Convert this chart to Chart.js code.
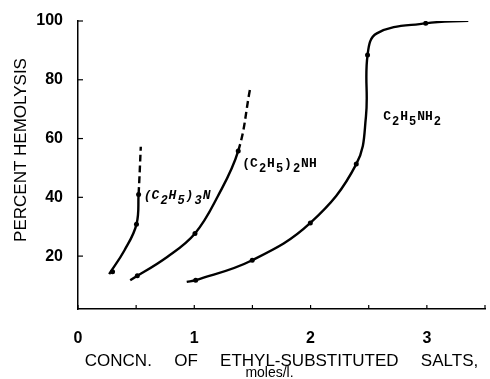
<!DOCTYPE html>
<html>
<head>
<meta charset="utf-8">
<script src="https://cdn.jsdelivr.net/npm/chart.js@4.4.1/dist/chart.umd.min.js"></script>
<style>
html,body{margin:0;padding:0;background:#fff;}
#wrap{width:490px;height:379px;}
</style>
</head>
<body>
<div id="wrap"><canvas id="c" width="490" height="379"></canvas></div>
<script>
// ---- data ----
// (C2H5)3N
const triCurveX = [0.268, 0.40, 0.503, 0.521, 0.54];
const triCurveY = [13.9, 22.0, 30.8, 41.0, 57.2];
const triDotX = [0.297, 0.503, 0.521];
const triDotY = [14.7, 30.8, 41.0];
// (C2H5)2NH
const diCurveX = [0.449, 0.77, 1.006, 1.20, 1.378, 1.478];
const diCurveY = [11.8, 19.8, 27.7, 40.2, 55.8, 76.5];
const diDotX = [0.51, 1.006, 1.378];
const diDotY = [13.3, 27.7, 55.8];
// C2H5NH2
const monoCurveX = [0.935, 1.012, 1.498, 1.998, 2.393, 2.476, 2.49, 2.57, 2.99, 3.356];
const monoCurveY = [11.25, 11.8, 18.6, 31.3, 51.3, 67.4, 88.4, 95.8, 99.2, 100.1];
const monoDotX = [1.012, 1.498, 1.998, 2.393, 2.49, 2.99];
const monoDotY = [11.8, 18.6, 31.3, 51.3, 88.4, 99.2];

const xTickLabels = ['0', '1', '2', '3'];
const yTickValues = [20, 40, 60, 80, 100];
const yTitle = 'PERCENT HEMOLYSIS';
const xTitleWords = ['CONCN.', 'OF', 'ETHYL-SUBSTITUTED', 'SALTS,'];
const xUnit = 'moles/l.';

function pts(xs, ys){ return xs.map((x,i)=>({x:x, y:ys[i]})); }

// formula labels, anchored in data coordinates
const formulaLabels = [
  {x:0.566, y:40.1, parts:[['(C',0],['2',1],['H',0],['5',1],[')',0],['3',1],['N',0]], italic:true},
  {x:1.413, y:51.0, parts:[['(C',0],['2',1],['H',0],['5',1],[')',0],['2',1],['NH',0]]},
  {x:2.624, y:67.0, parts:[['C',0],['2',1],['H',0],['5',1],['NH',0],['2',1]]}
];

const lineStyle = (dashFrom) => ({
  borderColor:'#000', borderWidth:2.4, pointRadius:0, fill:false,
  showLine:true, tension:0.4,
  segment:{ borderDash: ctx => ctx.p0DataIndex >= dashFrom ? [7,4] : undefined }
});
const dotStyle = {borderColor:'#000', backgroundColor:'#000', pointRadius:2.5, pointBorderWidth:0, showLine:false};

const extras = {
  id:'extras',
  afterDraw(chart){
    const ctx = chart.ctx, xs = chart.scales.x, ys = chart.scales.y, a = chart.chartArea;
    ctx.save();
    ctx.strokeStyle = '#000'; ctx.lineWidth = 1.2;
    xs.ticks.forEach(t => { const px = xs.getPixelForValue(t.value);
      ctx.beginPath(); ctx.moveTo(px, a.bottom); ctx.lineTo(px, a.bottom-4); ctx.stroke(); });
    ys.ticks.forEach(t => { const py = ys.getPixelForValue(t.value);
      ctx.beginPath(); ctx.moveTo(a.left, py); ctx.lineTo(a.left+5, py); ctx.stroke(); });
    ctx.fillStyle = '#000'; ctx.textBaseline = 'middle'; ctx.textAlign = 'left';
    formulaLabels.forEach(l => {
      let px = xs.getPixelForValue(l.x); const py = ys.getPixelForValue(l.y);
      l.parts.forEach(([s, sub]) => {
        ctx.font = (l.italic ? 'italic ' : '') + 'bold ' + (sub ? '12px' : '13px') + ' "Liberation Mono", monospace';
        ctx.fillText(s, px, py + (sub ? 4 : -1));
        px += ctx.measureText(s).width + 1;
      });
    });
    // y-axis title
    ctx.save();
    ctx.translate(21, 150); ctx.rotate(-Math.PI/2);
    ctx.textAlign = 'center';
    ctx.font = '17px "Liberation Sans", Arial, sans-serif';
    ctx.fillText(yTitle, 0, 0);
    ctx.restore();
    // second line of the x-axis title
    ctx.font = '14px "Liberation Sans", Arial, sans-serif';
    ctx.textAlign = 'center';
    ctx.fillText(xUnit, (a.left + a.right)/2 - 12, 373);
    ctx.restore();
  }
};

new Chart(document.getElementById('c'), {
  type:'scatter',
  data:{ datasets:[
    Object.assign({data:pts(triCurveX, triCurveY)}, lineStyle(3)),
    Object.assign({data:pts(diCurveX, diCurveY)}, lineStyle(4)),
    Object.assign({data:pts(monoCurveX, monoCurveY)}, lineStyle(99)),
    Object.assign({data:pts(triDotX, triDotY)}, dotStyle),
    Object.assign({data:pts(diDotX, diDotY)}, dotStyle),
    Object.assign({data:pts(monoDotX, monoDotY)}, dotStyle)
  ]},
  options:{
    responsive:false, animation:false, devicePixelRatio:1,
    layout:{padding:{left:0, right:5, top:21, bottom:0}},
    plugins:{legend:{display:false}, tooltip:{enabled:false}},
    scales:{
      x:{
        type:'linear', min:0, max:3.5,
        afterFit: s => { s.height = 70; s.paddingLeft = 0; s.paddingRight = 0; },
        grid:{display:false, drawTicks:false},
        border:{display:true, color:'#000', width:1.5},
        ticks:{stepSize:0.5, padding:20, color:'#000', maxRotation:0,
          font:{family:'"Liberation Sans", Arial, sans-serif', size:16, weight:'bold'},
          callback:(v)=> Number.isInteger(v) && xTickLabels.includes(String(v)) ? String(v) : ''},
        title:{display:true, color:'#000', padding:{top:0, bottom:9},
          text: xTitleWords.join('    \u2009'),
          font:{family:'"Liberation Sans", Arial, sans-serif', size:17, lineHeight:1}}
      },
      y:{
        type:'linear', min:2, max:100,
        afterFit: s => { s.width = 78; s.paddingTop = 0; s.paddingBottom = 0; },
        afterBuildTicks: s => { s.ticks = yTickValues.map(v=>({value:v})); },
        grid:{display:false, drawTicks:false},
        border:{display:true, color:'#000', width:1.5},
        ticks:{padding:15, color:'#000',
          font:{family:'"Liberation Sans", Arial, sans-serif', size:16, weight:'bold'}},
        title:{display:false}
      }
    }
  },
  plugins:[extras]
});
</script>
</body>
</html>
